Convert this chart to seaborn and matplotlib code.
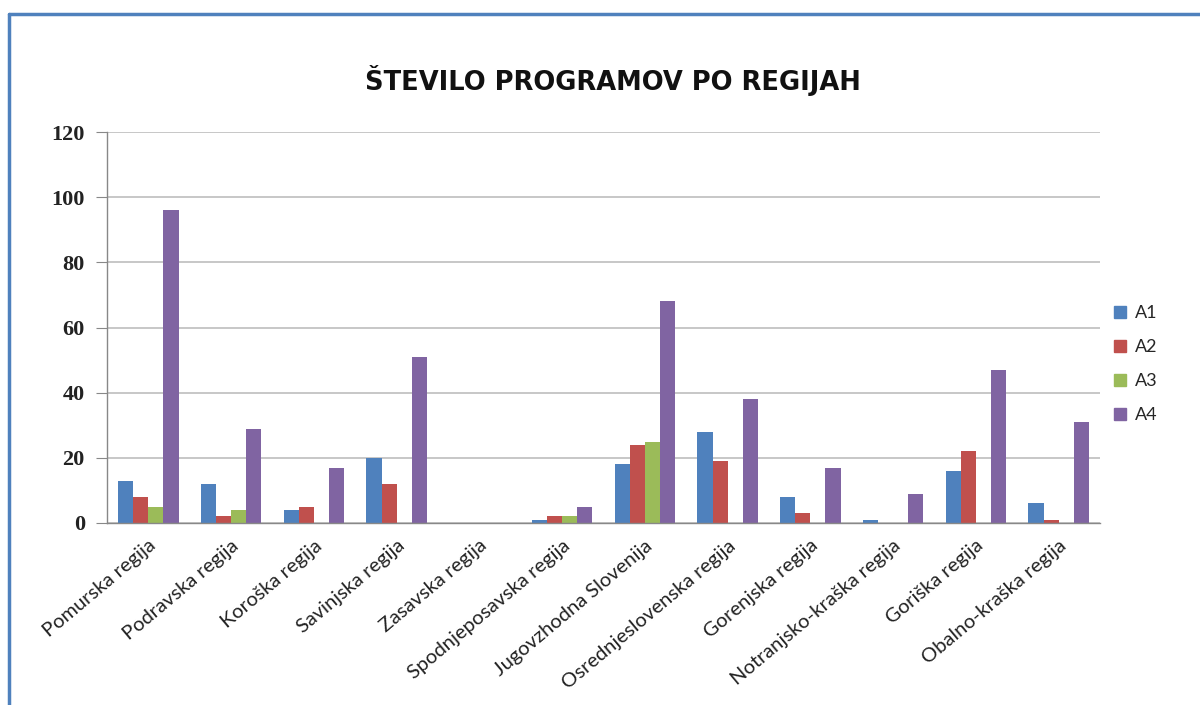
import pandas as pd
import matplotlib
matplotlib.use('Agg')
import matplotlib.pyplot as plt
import seaborn as sns
from matplotlib.lines import Line2D

# regije in stevilo programov po skupinah A1-A4
regije = ['Pomurska regija', 'Podravska regija', 'Koroška regija', 'Savinjska regija',
          'Zasavska regija', 'Spodnjeposavska regija', 'Jugovzhodna Slovenija',
          'Osrednjeslovenska regija', 'Gorenjska regija', 'Notranjsko-kraška regija',
          'Goriška regija', 'Obalno-kraška regija']
a1 = [13, 12, 4, 20, 0, 1, 18, 28, 8, 1, 16, 6]
a2 = [8, 2, 5, 12, 0, 2, 24, 19, 3, 0, 22, 1]
a3 = [5, 4, 0, 0, 0, 2, 25, 0, 0, 0, 0, 0]
a4 = [96, 29, 17, 51, 0, 5, 68, 38, 17, 9, 47, 31]
serije = ['A1', 'A2', 'A3', 'A4']
barve = ['#4F81BD', '#C0504D', '#9BBB59', '#8064A2']
y_ticks = [0, 20, 40, 60, 80, 100, 120]

df = pd.DataFrame({'regija': regije, 'A1': a1, 'A2': a2, 'A3': a3, 'A4': a4})
df_long = df.melt(id_vars='regija', var_name='serija', value_name='stevilo')

sns.set_style('white')

fig = plt.figure(figsize=(12, 7.05), dpi=100)
ax = fig.add_axes([107/1200, 1 - 523/705, 993/1200, 391/705])

sns.barplot(data=df_long, x='regija', y='stevilo', hue='serija', hue_order=serije,
            palette=barve, width=0.73, saturation=1, linewidth=0, edgecolor='none',
            ax=ax, legend=False)

ax.set_ylim(0, 120)
ax.set_yticks(y_ticks)
ax.set_yticklabels([str(v) for v in y_ticks], fontfamily='Liberation Serif',
                   fontweight='bold', fontsize=16, color='#222222')
ax.set_xlim(-0.5, len(regije) - 0.5)
ax.yaxis.grid(True, color='#bdbdbd', linewidth=1.2)
ax.set_axisbelow(True)
ax.set_xlabel('')
ax.set_ylabel('')

# kategorije: oznake na sredini, crtice med skupinami
ax.set_xticks(range(len(regije)))
ax.set_xticklabels(regije, rotation=40, ha='right', rotation_mode='anchor',
                   fontfamily='Lato', fontsize=14.5, color='#222222')
ax.set_xticks([i - 0.5 for i in range(len(regije) + 1)], minor=True)
ax.tick_params(axis='x', which='major', length=0, pad=10)
ax.tick_params(axis='x', which='minor', length=5, color='#888888', direction='out')
ax.tick_params(axis='y', length=8, color='#888888', direction='out', left=True, pad=8)

for s in ['top', 'right']:
    ax.spines[s].set_visible(False)
for s in ['left', 'bottom']:
    ax.spines[s].set_color('#888888')
    ax.spines[s].set_linewidth(1)

fig.text(613/1200, 1 - 80/705, 'ŠTEVILO PROGRAMOV PO REGIJAH', ha='center', va='center',
         fontfamily='DejaVu Sans', fontweight='bold', fontsize=18.5, color='#111111')

handles = [Line2D([0], [0], marker='s', linestyle='', markersize=8, color=c) for c in barve]
fig.legend(handles, serije, loc='center left', bbox_to_anchor=(1106/1200, 1 - 364/705),
           frameon=False, prop={'family': 'Lato', 'size': 13}, handlelength=0.8,
           handletextpad=0.4, labelspacing=1.0, borderaxespad=0)

# modri okvir
fig.add_artist(Line2D([9/1200, 9/1200], [0, 1 - 14/705], transform=fig.transFigure,
                      color='#4F81BD', linewidth=2.5))
fig.add_artist(Line2D([9/1200, 1], [1 - 14/705, 1 - 14/705], transform=fig.transFigure,
                      color='#4F81BD', linewidth=2.5))

fig.savefig('out.png', dpi=100, facecolor='white')
